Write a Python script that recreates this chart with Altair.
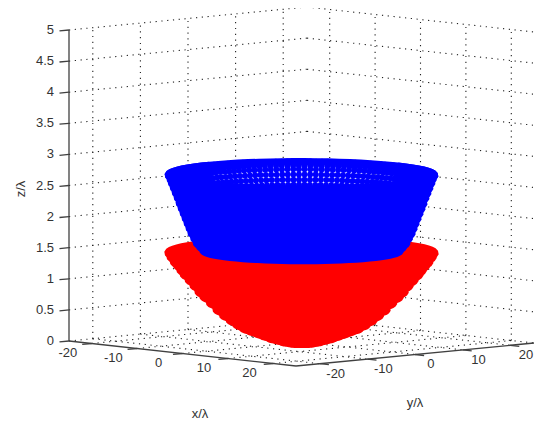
import math
import altair as alt
import pandas as pd

TICKS_XY = [-20, -10, 0, 10, 20]
TICKS_Z = [0, 0.5, 1, 1.5, 2, 2.5, 3, 3.5, 4, 4.5, 5]
Z_LABELS = ["0", "0.5", "1", "1.5", "2", "2.5", "3", "3.5", "4", "4.5", "5"]
LIM = 25
RED_R = [0, 1, 2, 3, 4, 5, 6, 7, 8, 9, 10, 11, 12, 13, 14, 15, 15.75, 16.5, 17.25, 18, 18.5, 19, 19.5, 20, 20.3]
RED_Z = [-0.04, -0.03, -0.02, 0.0, 0.03, 0.06, 0.10, 0.14, 0.18, 0.22, 0.28, 0.35, 0.43, 0.52, 0.63, 0.73, 0.81, 0.91, 1.00, 1.09, 1.16, 1.23, 1.29, 1.37, 1.43]
BLUE_R = [15.0, 15.5, 16.0, 16.4, 16.8, 17.1, 17.4, 17.7, 18.0, 18.3, 18.6, 18.9, 19.2, 19.5, 19.8, 20.0, 20.25]
BLUE_Z = [1.47, 1.53, 1.59, 1.67, 1.75, 1.83, 1.91, 1.99, 2.07, 2.15, 2.23, 2.32, 2.40, 2.48, 2.56, 2.62, 2.68]
RED_AZ = list(range(0, 365, 5))
BLUE_FRONT_AZ = list(range(180, 455, 5))
BLUE_BACK_AZ = [90 + a * 2.5 for a in range(37)]
H = 413


def px(x, y):
    return 61 + 4.54 * (x + LIM) + 4.76 * (y + LIM)


def py(x, y, z):
    return 333 + 0.5 * (x + LIM) - 0.46 * (y + LIM) - 62.2 * z


def seg(a, b):
    return dict(u=px(a[0], a[1]), v=py(*a), u2=px(b[0], b[1]), v2=py(*b))


def ring_rows(r, z, az, ring):
    rows = []
    for j, a in enumerate(az):
        x, y = r * math.cos(math.radians(a)), r * math.sin(math.radians(a))
        rows.append(dict(u=px(x, y), v=py(x, y, z), ring=ring, j=j))
    return rows


grid = []
for k in TICKS_XY:
    grid.append(seg((-LIM, k, 0), (-LIM, k, 5)))
    grid.append(seg((k, LIM, 0), (k, LIM, 5)))
    grid.append(seg((k, -LIM, 0), (k, LIM, 0)))
    grid.append(seg((-LIM, k, 0), (LIM, k, 0)))
for z in TICKS_Z:
    grid.append(seg((-LIM, -LIM, z), (-LIM, LIM, z)))
    grid.append(seg((-LIM, LIM, z), (LIM, LIM, z)))

axes = [seg((-LIM, -LIM, 0), (-LIM, -LIM, 5)), seg((-LIM, -LIM, 0), (LIM, -LIM, 0)), seg((LIM, -LIM, 0), (LIM, LIM, 0))]
for k in TICKS_XY:
    axes.append(seg((k, -LIM, 0), (k, -LIM - 2, 0)))
    axes.append(seg((LIM, k, 0), (LIM + 2, k, 0)))
for z in TICKS_Z:
    axes.append(seg((-LIM, -LIM, z), (-LIM, -LIM - 2, z)))

labels = []
for k in TICKS_XY:
    labels.append(dict(u=px(k, -30), v=py(k, -30, -0.12), t=str(k)))
    labels.append(dict(u=px(28.5, k), v=py(28.5, k, -0.13), t=str(k)))
zlabels = [dict(u=46, v=py(-LIM, -LIM, z), t=t) for z, t in zip(TICKS_Z, Z_LABELS)]
titles = [dict(u=192, v=406, t="x/\u03bb"), dict(u=407, v=395, t="y/\u03bb"), dict(u=13, v=181, t="z/\u03bb")]

red = []
for i, (r, z) in enumerate(zip(RED_R, RED_Z)):
    red += ring_rows(r, z, RED_AZ, i)
blue_lines = []
blue_pts = []
for i, (r, z) in enumerate(zip(BLUE_R, BLUE_Z)):
    blue_lines += ring_rows(r, z, BLUE_FRONT_AZ, i)
    blue_pts += ring_rows(r, z, BLUE_BACK_AZ, i)
blue_rim = ring_rows(BLUE_R[-1], BLUE_Z[-1], RED_AZ, 0)

X = alt.X("u:Q", scale=alt.Scale(domain=[0, 528]), axis=None)
Y = alt.Y("v:Q", scale=alt.Scale(domain=[0, H], reverse=True), axis=None)

grid_l = alt.Chart(pd.DataFrame(grid)).mark_rule(stroke="#222222", strokeWidth=1.1, strokeDash=[1.2, 4.6]).encode(x=X, y=Y, x2="u2:Q", y2="v2:Q")
axes_l = alt.Chart(pd.DataFrame(axes)).mark_rule(stroke="#404040", strokeWidth=1.3).encode(x=X, y=Y, x2="u2:Q", y2="v2:Q")
red_l = alt.Chart(pd.DataFrame(red)).mark_line(stroke="#ff0000", strokeWidth=7).encode(x=X, y=Y, detail="ring:N", order="j:Q")
blue_a = alt.Chart(pd.DataFrame(blue_lines)).mark_line(stroke="#0000ff", strokeWidth=7).encode(x=X, y=Y, detail="ring:N", order="j:Q")
blue_p = alt.Chart(pd.DataFrame(blue_pts)).mark_circle(color="#0000ff", opacity=1, size=36).encode(x=X, y=Y)
blue_r = alt.Chart(pd.DataFrame(blue_rim)).mark_line(stroke="#0000ff", strokeWidth=7).encode(x=X, y=Y, detail="ring:N", order="j:Q")
FONT = "Liberation Sans"
lab_l = alt.Chart(pd.DataFrame(labels)).mark_text(font=FONT, fontSize=13, color="#333333", align="center", baseline="middle").encode(x=X, y=Y, text="t:N")
z_l = alt.Chart(pd.DataFrame(zlabels)).mark_text(font=FONT, fontSize=13, color="#333333", align="right", baseline="middle").encode(x=X, y=Y, text="t:N")
t1 = alt.Chart(pd.DataFrame(titles[:2])).mark_text(font=FONT, fontSize=13, color="#333333", align="center", baseline="middle").encode(x=X, y=Y, text="t:N")
t2 = alt.Chart(pd.DataFrame(titles[2:])).mark_text(font=FONT, fontSize=13, color="#333333", align="center", baseline="middle", angle=270).encode(x=X, y=Y, text="t:N")

chart = (grid_l + axes_l + red_l + blue_a + blue_p + blue_r + lab_l + z_l + t1 + t2).properties(
    width=528, height=H, padding=0, autosize="none", background="white"
).configure_view(stroke=None)
chart.save("out.html", embed_options={"renderer": "svg", "actions": False})
